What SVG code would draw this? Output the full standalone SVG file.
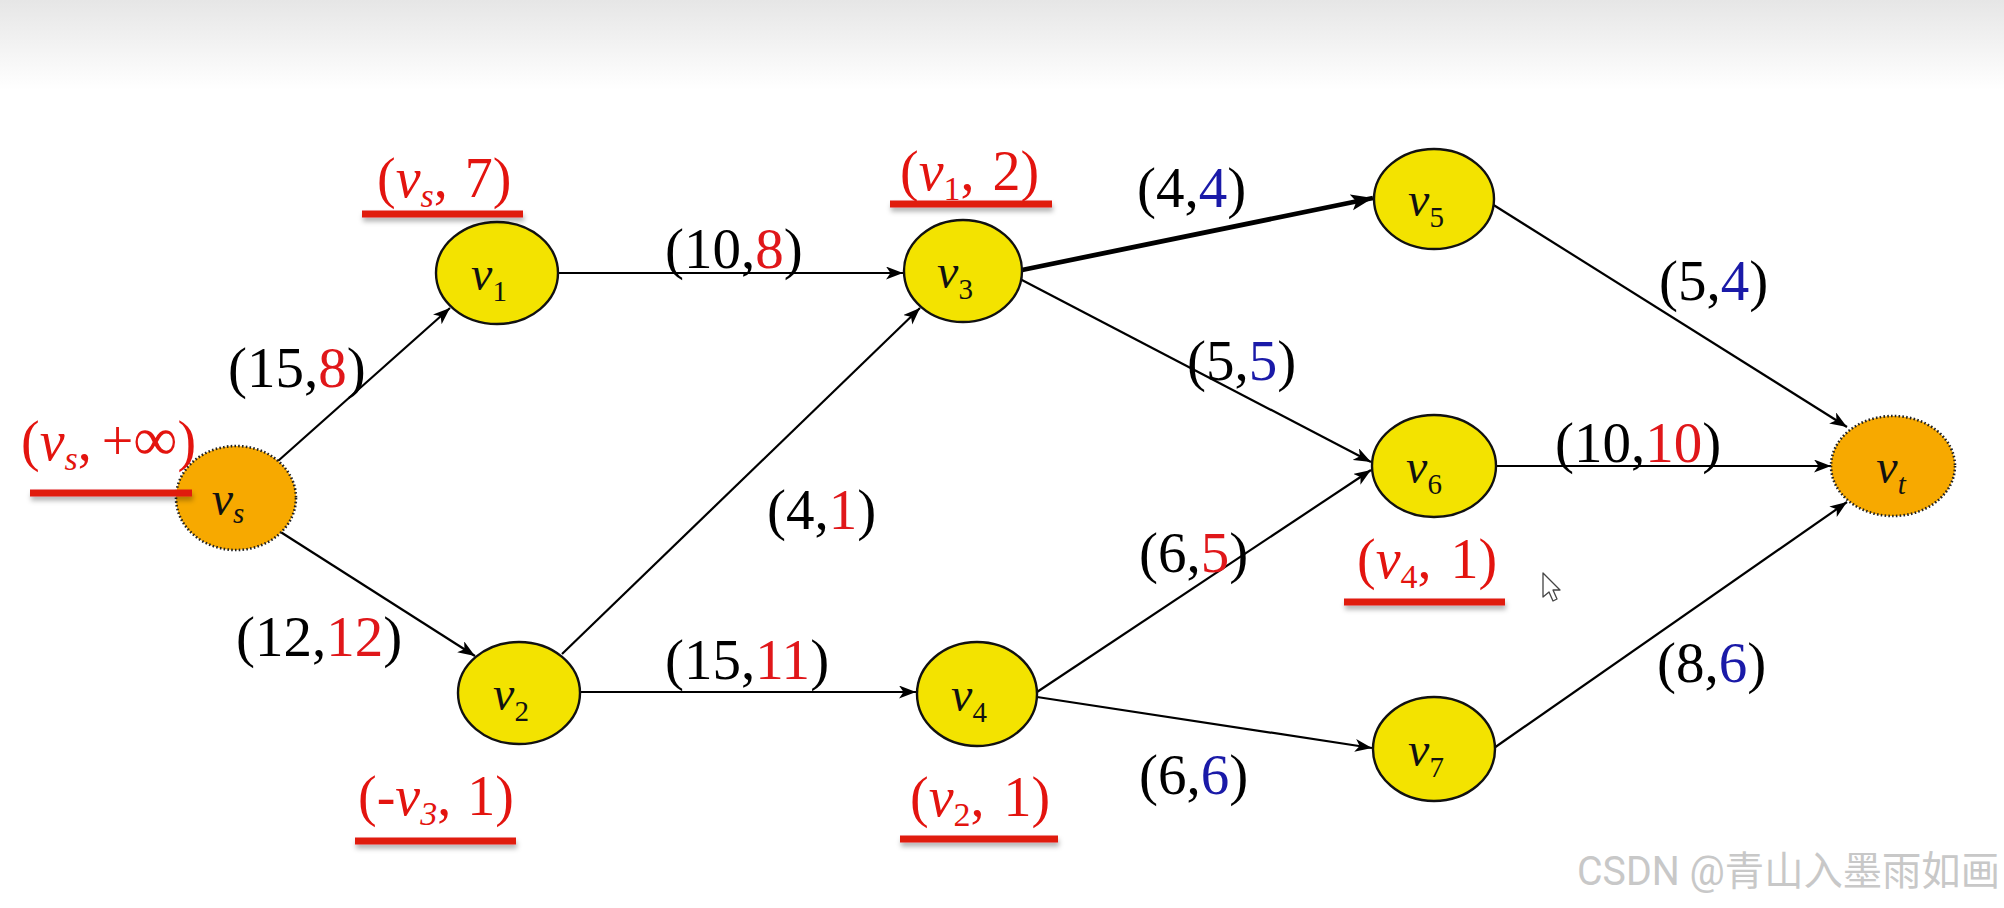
<svg xmlns="http://www.w3.org/2000/svg" width="2004" height="908" viewBox="0 0 2004 908">
<defs>
<linearGradient id="topband" x1="0" y1="0" x2="0" y2="1">
<stop offset="0" stop-color="#e6e6e6"/>
<stop offset="1" stop-color="#ffffff"/>
</linearGradient>
<marker id="arr" markerUnits="userSpaceOnUse" markerWidth="20" markerHeight="14" refX="17" refY="6.5" orient="auto">
<path d="M0,0 L17,6.5 L0,13 L4.5,6.5 z" fill="#000"/>
</marker>
<marker id="arrB" markerUnits="userSpaceOnUse" markerWidth="26" markerHeight="18" refX="22" refY="8" orient="auto">
<path d="M0,0 L22,8 L0,16 L5,8 z" fill="#000"/>
</marker>
<filter id="sh" x="-10%" y="-100%" width="120%" height="400%">
<feDropShadow dx="1" dy="4" stdDeviation="2.5" flood-color="#000" flood-opacity="0.3"/>
</filter>
</defs>
<style>
.yel{fill:#f3e300;stroke:#111;stroke-width:2.4}
.org{fill:#f7a900;stroke:#222;stroke-width:2.6;stroke-dasharray:1.6 2.2}
.e{stroke:#000;stroke-width:2.2;fill:none;marker-end:url(#arr)}
.eb{stroke:#000;stroke-width:4.8;fill:none;marker-end:url(#arrB)}
.nv{font-family:"Liberation Serif","Times New Roman",serif;font-size:48px;fill:#111}
.i{font-style:italic}
.sb{font-size:29px}
.el{font-family:"Liberation Serif","Times New Roman",serif;font-size:57px;fill:#000}
.r{fill:#e0171a}
.b{fill:#1a1aa8}
.rl{font-family:"Liberation Serif","Times New Roman",serif;font-size:56px;fill:#e3140f}
.rs{font-size:34px}
.ul{fill:#e01b10;filter:url(#sh)}
.wm{font-family:"Roboto","Noto Sans CJK SC",sans-serif;font-size:40px;fill:#c8c8c8}
</style>
<rect x="0" y="0" width="2004" height="908" fill="#ffffff"/>
<rect x="0" y="0" width="2004" height="90" fill="url(#topband)"/>

<g id="connectors">
<line class="e" x1="278" y1="461" x2="450" y2="308"/>
<line class="e" x1="279" y1="531" x2="475" y2="656"/>
<line class="e" x1="558" y1="273" x2="903" y2="273"/>
<line class="e" x1="562" y1="654" x2="920" y2="308"/>
<line class="e" x1="580" y1="692" x2="916" y2="692"/>
<line class="eb" x1="1022" y1="270" x2="1373" y2="198"/>
<line class="e" x1="1020" y1="279" x2="1371" y2="462"/>
<line class="e" x1="1037" y1="692" x2="1371" y2="470"/>
<line class="e" x1="1037" y1="697" x2="1372" y2="748"/>
<line class="e" x1="1492" y1="204" x2="1847" y2="427"/>
<line class="e" x1="1496" y1="466" x2="1831" y2="466"/>
<line class="e" x1="1494" y1="748" x2="1847" y2="502"/>
</g>

<g id="edge-labels">
<text class="el" x="228" y="387">(15,<tspan class="r">8</tspan>)</text>
<text class="el" x="665" y="268">(10,<tspan class="r">8</tspan>)</text>
<text class="el" x="236" y="656">(12,<tspan class="r">12</tspan>)</text>
<text class="el" x="665" y="679">(15,<tspan class="r">11</tspan>)</text>
<text class="el" x="767" y="529">(4,<tspan class="r">1</tspan>)</text>
<text class="el" x="1137" y="207">(4,<tspan class="b">4</tspan>)</text>
<text class="el" x="1187" y="380">(5,<tspan class="b">5</tspan>)</text>
<text class="el" x="1659" y="300">(5,<tspan class="b">4</tspan>)</text>
<text class="el" x="1555" y="462">(10,<tspan class="r">10</tspan>)</text>
<text class="el" x="1139" y="572">(6,<tspan class="r">5</tspan>)</text>
<text class="el" x="1139" y="794">(6,<tspan class="b">6</tspan>)</text>
<text class="el" x="1657" y="682">(8,<tspan class="b">6</tspan>)</text>
</g>

<g id="node-vs">
<ellipse class="org" cx="236" cy="498" rx="60" ry="52"/>
<text class="nv" x="228" y="515" text-anchor="middle"><tspan class="i">v</tspan><tspan class="sb i" dy="8">s</tspan></text>
<text class="rl" x="21" y="460">(<tspan class="i">v</tspan><tspan class="rs i" dy="10">s</tspan><tspan dy="-10">,</tspan><tspan dx="10">+</tspan><tspan style="font-size:62px">∞</tspan>)</text>
<rect class="ul" x="30" y="489.5" width="162" height="7"/>
</g>

<g id="node-v1">
<ellipse class="yel" cx="497" cy="273" rx="61" ry="51"/>
<text class="nv" x="489" y="290" text-anchor="middle"><tspan class="i">v</tspan><tspan class="sb" dy="11">1</tspan></text>
<text class="rl" x="377" y="197">(<tspan class="i">v</tspan><tspan class="rs i" dy="10">s</tspan><tspan dy="-10">,</tspan><tspan dx="17">7)</tspan></text>
<rect class="ul" x="362" y="210.5" width="161" height="7"/>
</g>

<g id="node-v2">
<ellipse class="yel" cx="519" cy="693" rx="61" ry="51"/>
<text class="nv" x="511" y="710" text-anchor="middle"><tspan class="i">v</tspan><tspan class="sb" dy="11">2</tspan></text>
<text class="rl" x="358" y="815">(-<tspan class="i">v</tspan><tspan class="rs i" dy="10">3</tspan><tspan dy="-10">,</tspan><tspan dx="16">1)</tspan></text>
<rect class="ul" x="355" y="837.5" width="161" height="7"/>
</g>

<g id="node-v3">
<ellipse class="yel" cx="963" cy="271" rx="59" ry="51"/>
<text class="nv" x="955" y="288" text-anchor="middle"><tspan class="i">v</tspan><tspan class="sb" dy="11">3</tspan></text>
<text class="rl" x="900" y="190">(<tspan class="i">v</tspan><tspan class="rs" dy="10">1</tspan><tspan dy="-10">,</tspan><tspan dx="18">2)</tspan></text>
<rect class="ul" x="890" y="200.5" width="162" height="7"/>
</g>

<g id="node-v4">
<ellipse class="yel" cx="977" cy="694" rx="60" ry="52"/>
<text class="nv" x="969" y="711" text-anchor="middle"><tspan class="i">v</tspan><tspan class="sb" dy="11">4</tspan></text>
<text class="rl" x="910" y="816">(<tspan class="i">v</tspan><tspan class="rs" dy="10">2</tspan><tspan dy="-10">,</tspan><tspan dx="19">1)</tspan></text>
<rect class="ul" x="900" y="835.5" width="158" height="7"/>
</g>

<g id="node-v5">
<ellipse class="yel" cx="1434" cy="199" rx="60" ry="50"/>
<text class="nv" x="1426" y="216" text-anchor="middle"><tspan class="i">v</tspan><tspan class="sb" dy="11">5</tspan></text>
</g>

<g id="node-v6">
<ellipse class="yel" cx="1434" cy="466" rx="62" ry="51"/>
<text class="nv" x="1424" y="483" text-anchor="middle"><tspan class="i">v</tspan><tspan class="sb" dy="11">6</tspan></text>
<text class="rl" x="1357" y="578">(<tspan class="i">v</tspan><tspan class="rs" dy="10">4</tspan><tspan dy="-10">,</tspan><tspan dx="19">1)</tspan></text>
<rect class="ul" x="1344" y="598.5" width="161" height="7"/>
</g>

<g id="node-v7">
<ellipse class="yel" cx="1434" cy="749" rx="61" ry="52"/>
<text class="nv" x="1426" y="766" text-anchor="middle"><tspan class="i">v</tspan><tspan class="sb" dy="11">7</tspan></text>
</g>

<g id="node-vt">
<ellipse class="org" cx="1893" cy="466" rx="62" ry="50"/>
<text class="nv" x="1891" y="483" text-anchor="middle"><tspan class="i">v</tspan><tspan class="sb i" dy="11">t</tspan></text>
</g>

<polygon points="1543,573 1543,597 1549,592 1553,601 1557,599 1553,590 1560,590" fill="#ffffff" stroke="#444" stroke-width="1.3" stroke-linejoin="round"/>

<text class="wm" x="2000" y="885" text-anchor="end" textLength="423" lengthAdjust="spacingAndGlyphs">CSDN @青山入墨雨如画</text>
</svg>
